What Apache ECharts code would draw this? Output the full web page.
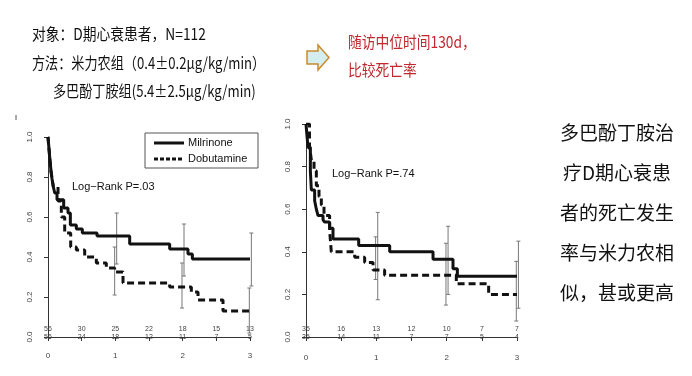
<!DOCTYPE html>
<html>
<head>
<meta charset="utf-8">
<script src="https://cdn.jsdelivr.net/npm/echarts@6/dist/echarts.min.js"></script>
<style>
  html, body { margin: 0; padding: 0; background: #fff; }
  #main { width: 692px; height: 376px; }
</style>
</head>
<body>
<div id="main"></div>
<script>
// 左图：米力农（实线）与多巴酚丁胺（虚线）生存曲线 [年, 生存率]
const leftMilrinone = [[0,1],[0.015,0.94],[0.03,0.88],[0.045,0.83],[0.06,0.79],[0.08,0.75],[0.1,0.72],[0.134,0.686],[0.233,0.645],[0.297,0.62],[0.332,0.56],[0.421,0.54],[0.51,0.52],[0.728,0.505],[1.213,0.465],[1.807,0.44],[2.079,0.415],[2.144,0.39],[3,0.39]];
const leftDobutamine = [[0,1],[0.015,0.94],[0.03,0.88],[0.045,0.83],[0.06,0.79],[0.08,0.75],[0.149,0.68],[0.198,0.6],[0.248,0.52],[0.337,0.45],[0.421,0.435],[0.545,0.4],[0.718,0.37],[0.866,0.345],[0.99,0.325],[1.114,0.27],[1.807,0.25],[2.129,0.225],[2.228,0.185],[2.599,0.13],[3,0.13]];
// 误差线 [年, 下限, 上限]
const leftMilErr = [[1.02,0.365,0.62],[2.02,0.305,0.565],[3.02,0.255,0.52]];
const leftDobErr = [[0.99,0.21,0.45],[1.99,0.145,0.37],[2.99,0.02,0.245]];
// 风险人数（时间点 0, 0.5, 1 … 3）
const leftRiskMil = [56,30,25,22,18,15,13];
const leftRiskDob = [56,24,18,12,11,7,5];

// 右图
const rightMilrinone = [[0,1],[0.028,0.89],[0.062,0.78],[0.076,0.69],[0.123,0.64],[0.147,0.6],[0.171,0.57],[0.242,0.55],[0.265,0.54],[0.336,0.51],[0.384,0.46],[0.749,0.43],[1.19,0.4],[1.806,0.365],[2.09,0.32],[2.152,0.285],[3,0.285]];
const rightDobutamine = [[0,1],[0.05,0.9],[0.076,0.83],[0.114,0.78],[0.147,0.71],[0.185,0.66],[0.218,0.62],[0.256,0.57],[0.336,0.5],[0.36,0.4],[0.692,0.375],[0.834,0.35],[0.953,0.315],[1.118,0.29],[2.137,0.25],[2.597,0.2],[3,0.2]];
const rightMilErr = [[1.02,0.175,0.585],[2.02,0.2,0.52],[3.02,0.135,0.45]];
const rightDobErr = [[0.99,0.27,0.47],[1.99,0.15,0.44],[2.99,0.075,0.355]];
const rightRiskMil = [35,16,13,12,10,7,7];
const rightRiskDob = [35,14,11,7,7,5,4];

const yTicks = ['0.0','0.2','0.4','0.6','0.8','1.0'];
const xTicks = ['0','1','2','3'];

const rightText = ['多巴酚丁胺治', '疗D期心衰患', '者的死亡发生', '率与米力农相', '似，甚或更高'];

const chart = echarts.init(document.getElementById('main'));

const cjk = '"Noto Sans CJK SC", sans-serif';
const latin = '"Liberation Sans", Arial, sans-serif';

function xAxisOf(gi, off) {
  return {
    gridIndex: gi, type: 'value', position: 'bottom', min: 0, max: 3, interval: 0.5, offset: off,
    axisLine: { show: true, lineStyle: { color: '#333', width: 1 } },
    axisTick: { show: true, length: 4, lineStyle: { color: '#333' } },
    axisLabel: {
      fontSize: 8, color: '#444', fontFamily: latin, margin: 7,
      formatter: v => (Number.isInteger(v) ? xTicks[v] : '')
    },
    splitLine: { show: false }
  };
}
// 风险人数行：用一条隐藏的 x 轴来放标签
function riskAxis(gi, counts, off) {
  return {
    gridIndex: gi, type: 'value', position: 'bottom', min: 0, max: 3, interval: 0.5, offset: off,
    axisLine: { show: false }, axisTick: { show: false }, splitLine: { show: false },
    axisLabel: {
      fontSize: 7, color: '#444', fontFamily: latin, margin: 0, interval: 0,
      hideOverlap: false, showMinLabel: true, showMaxLabel: true,
      formatter: v => String(counts[Math.round(v * 2)])
    }
  };
}
function yAxisOf(gi) {
  return {
    gridIndex: gi, type: 'value', min: 0, max: 1, interval: 0.2, offset: 8,
    axisLine: { show: true, lineStyle: { color: '#333', width: 1 } },
    axisTick: { show: true, length: 4, lineStyle: { color: '#333' } },
    axisLabel: {
      fontSize: 8, color: '#444', fontFamily: latin, rotate: 90, margin: 6,
      formatter: v => yTicks[Math.round(v * 5)]
    },
    splitLine: { show: false }
  };
}
function curve(gi, data, dashed) {
  return {
    type: 'line', xAxisIndex: gi, yAxisIndex: gi, data: data, step: 'end',
    symbol: 'none', silent: true, z: 3,
    lineStyle: { color: '#111', width: 3, type: dashed ? [7, 4] : 'solid' }
  };
}
function errBars(gi, data) {
  return {
    type: 'custom', xAxisIndex: gi, yAxisIndex: gi, data: data, z: 2, clip: false,
    renderItem: (params, api) => {
      const lo = api.coord([api.value(0), api.value(1)]);
      const hi = api.coord([api.value(0), api.value(2)]);
      const st = { stroke: '#777', lineWidth: 1 };
      return {
        type: 'group', children: [
          { type: 'line', shape: { x1: lo[0], y1: lo[1], x2: hi[0], y2: hi[1] }, style: st },
          { type: 'line', shape: { x1: lo[0] - 2, y1: lo[1], x2: lo[0] + 2, y2: lo[1] }, style: st },
          { type: 'line', shape: { x1: hi[0] - 2, y1: hi[1], x2: hi[0] + 2, y2: hi[1] }, style: st }
        ]
      };
    }
  };
}

function txt(x, y, text, opt) {
  return Object.assign({
    type: 'text', x: x, y: y,
    style: Object.assign({ text: text, fill: '#111', fontFamily: cjk, fontSize: 16, align: 'left', verticalAlign: 'middle' }, opt.style || {})
  }, opt.el || {});
}

const graphics = [
  txt(32, 34, '对象：D期心衰患者，N=112', { el: { scaleX: 0.86 } }),
  txt(32, 63, '方法：米力农组（0.4±0.2μg/kg/min）', { el: { scaleX: 0.82 } }),
  txt(53, 91, '多巴酚丁胺组(5.4±2.5μg/kg/min)', { el: { scaleX: 0.82 } }),
  txt(348, 42, '随访中位时间130d，', { el: { scaleX: 0.86 }, style: { fill: '#c0282d' } }),
  txt(348, 70, '比较死亡率', { el: { scaleX: 0.86 }, style: { fill: '#c0282d' } }),
  {
    type: 'polygon',
    shape: { points: [[307, 51], [318, 51], [318, 45], [329, 57.5], [318, 70], [318, 64], [307, 64]] },
    style: { fill: '#d4eef0', stroke: '#c98a2c', lineWidth: 1.5 }
  },
  // 图例
  { type: 'rect', shape: { x: 145, y: 133, width: 113, height: 35 }, style: { fill: '#fff', stroke: '#555', lineWidth: 1 }, z: 10 },
  { type: 'line', shape: { x1: 154, y1: 143, x2: 184, y2: 143 }, style: { stroke: '#111', lineWidth: 3 }, z: 11 },
  { type: 'line', shape: { x1: 154, y1: 159, x2: 184, y2: 159 }, style: { stroke: '#111', lineWidth: 3, lineDash: [4, 2] }, z: 11 },
  txt(188, 143, 'Milrinone', { style: { fontFamily: latin, fontSize: 11 }, el: { z: 11 } }),
  txt(188, 159, 'Dobutamine', { style: { fontFamily: latin, fontSize: 11 }, el: { z: 11 } }),
  txt(72, 187, 'Log\u2212Rank P=.03', { style: { fontFamily: latin, fontSize: 11 } }),
  txt(332, 174, 'Log\u2212Rank P=.74', { style: { fontFamily: latin, fontSize: 11 } }),
  { type: 'line', shape: { x1: 16, y1: 115, x2: 16, y2: 120 }, style: { stroke: '#555', lineWidth: 1 } }
];
rightText.forEach((s, i) => {
  graphics.push(txt(617, 133 + i * 40, s, { style: { fontSize: 19, align: 'center', fill: '#111' } }));
});

const option = {
  animation: false,
  backgroundColor: '#fff',
  grid: [
    { left: 48, right: 442, top: 137, bottom: 39 },
    { left: 306, right: 175, top: 124, bottom: 39 }
  ],
  xAxis: [
    xAxisOf(0, 8), xAxisOf(1, 10),
    riskAxis(0, leftRiskMil, -11), riskAxis(0, leftRiskDob, -3),
    riskAxis(1, rightRiskMil, -11), riskAxis(1, rightRiskDob, -3)
  ],
  yAxis: [yAxisOf(0), yAxisOf(1)],
  series: [
    errBars(0, leftMilErr), errBars(0, leftDobErr),
    curve(0, leftMilrinone, false), curve(0, leftDobutamine, true),
    errBars(1, rightMilErr), errBars(1, rightDobErr),
    curve(1, rightMilrinone, false), curve(1, rightDobutamine, true)
  ],
  graphic: graphics
};

chart.setOption(option);
</script>
</body>
</html>
